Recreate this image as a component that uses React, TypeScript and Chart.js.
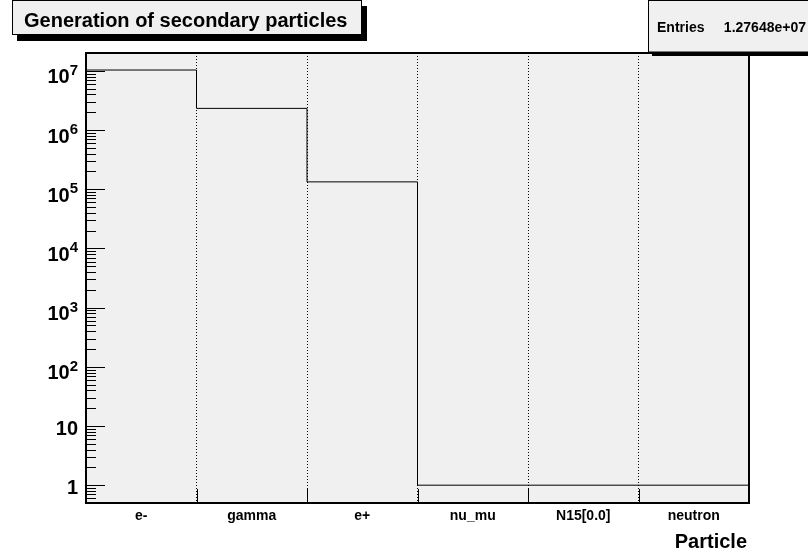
import React, { useEffect, useRef } from 'react';
import { Chart, registerables } from 'chart.js';

Chart.register(...registerables);

// Histogram contents: one bin per secondary particle species
const particles = ['e-', 'gamma', 'e+', 'nu_mu', 'N15[0.0]', 'neutron'];
const counts = [10311797, 2320000, 133000, 1, 1, 1];
const entriesLabel = 'Entries';
const entriesValue = '1.27648e+07';
const titleText = 'Generation of secondary particles';
const xAxisTitle = 'Particle';
// logarithmic y range and decade labels (10^k)
const yMin = 0.5;
const yMax = 2e7;
const decadeExponents = [0, 1, 2, 3, 4, 5, 6, 7];

const FONT = '"Liberation Sans", Arial, Helvetica, sans-serif';
const PAD_GRAY = '#f0f0f0';

const rootStylePlugin = {
  id: 'rootStyle',
  beforeDraw(chart: any) {
    const { ctx, chartArea: a } = chart;
    ctx.save();
    ctx.fillStyle = '#ffffff';
    ctx.fillRect(0, 0, chart.width, chart.height);
    ctx.fillStyle = PAD_GRAY;
    ctx.fillRect(a.left, a.top, a.right - a.left, a.bottom - a.top);
    ctx.restore();
  },
  afterDraw(chart: any) {
    const { ctx, chartArea: a, scales } = chart;
    const xs = scales.x;
    const ys = scales.y;
    ctx.save();

    // frame
    ctx.strokeStyle = '#000';
    ctx.lineWidth = 2;
    ctx.strokeRect(a.left, a.top, a.right - a.left, a.bottom - a.top);

    // inner tick marks on the log axis
    ctx.lineWidth = 1;
    ctx.beginPath();
    for (let k = -1; k <= 7; k++) {
      for (let m = 1; m <= 9; m++) {
        const v = m * Math.pow(10, k);
        if (v <= yMin * 1.0001 || v >= yMax * 0.9999) continue;
        const py = Math.round(ys.getPixelForValue(v)) + 0.5;
        const len = m === 1 ? 19 : 10;
        ctx.moveTo(a.left, py);
        ctx.lineTo(a.left + len, py);
      }
    }
    // tick marks at the bin edges
    for (let i = 1; i < particles.length; i++) {
      const px = Math.round(xs.getPixelForValue(i)) + 0.5;
      ctx.moveTo(px, a.bottom);
      ctx.lineTo(px, a.bottom - 14);
    }
    ctx.stroke();

    // y labels: 1, 10, 10^2 ... 10^7
    ctx.fillStyle = '#000';
    ctx.textAlign = 'right';
    ctx.textBaseline = 'alphabetic';
    const labelRight = a.left - 8;
    decadeExponents.forEach((k) => {
      const py = ys.getPixelForValue(Math.pow(10, k));
      if (k < 2) {
        ctx.font = `bold 20px ${FONT}`;
        ctx.fillText(k === 0 ? '1' : '10', labelRight, py + 9);
      } else {
        const exp = String(k);
        ctx.font = `bold 15px ${FONT}`;
        const ew = ctx.measureText(exp).width;
        ctx.fillText(exp, labelRight, py + 4);
        ctx.font = `bold 20px ${FONT}`;
        ctx.fillText('10', labelRight - ew, py + 12.5);
      }
    });

    // bin labels
    ctx.textAlign = 'center';
    ctx.font = `bold 14px ${FONT}`;
    particles.forEach((p, i) => {
      ctx.fillText(p, xs.getPixelForValue(i + 0.5), a.bottom + 17);
    });

    // axis title
    ctx.textAlign = 'right';
    ctx.font = `bold 20px ${FONT}`;
    ctx.fillText(xAxisTitle, a.right - 2, a.bottom + 45);

    // title box with shadow
    ctx.fillStyle = '#000';
    ctx.fillRect(17, 6, 350, 35);
    ctx.fillStyle = PAD_GRAY;
    ctx.fillRect(12, 1, 350, 34);
    ctx.strokeStyle = '#000';
    ctx.lineWidth = 1;
    ctx.strokeRect(12.5, 0.5, 349, 34);
    ctx.fillStyle = '#000';
    ctx.textAlign = 'left';
    ctx.font = `bold 20px ${FONT}`;
    ctx.fillText(titleText, 24, 27);

    // statistics box with shadow
    ctx.fillStyle = '#000';
    ctx.fillRect(652, 5, 170, 51);
    ctx.fillStyle = PAD_GRAY;
    ctx.fillRect(648, 0, 170, 52);
    ctx.strokeStyle = '#000';
    ctx.strokeRect(648.5, 0.5, 170, 51.5);
    ctx.fillStyle = '#000';
    ctx.font = `bold 14px ${FONT}`;
    ctx.textAlign = 'left';
    ctx.fillText(entriesLabel, 657, 32);
    ctx.textAlign = 'right';
    ctx.fillText(entriesValue, 806, 32);

    ctx.restore();
  },
};

export default function App() {
  const canvasRef = useRef<HTMLCanvasElement | null>(null);

  useEffect(() => {
    document.body.style.margin = '0';
    const canvas = canvasRef.current;
    if (!canvas) return;

    // bin edges 0..N with the last bin repeated so the step closes at the right edge
    const points = particles.map((_, i) => ({ x: i, y: counts[i] }));
    points.push({ x: particles.length, y: counts[counts.length - 1] });

    const chart = new Chart(canvas, {
      type: 'line',
      data: {
        datasets: [
          {
            data: points,
            borderColor: '#000',
            borderWidth: 1,
            pointRadius: 0,
            stepped: 'before',
            fill: false,
          },
        ],
      },
      options: {
        animation: false,
        responsive: false,
        events: [],
        layout: { padding: { left: 0, top: 53, right: 59, bottom: 0 } },
        plugins: {
          legend: { display: false },
          title: { display: false },
          tooltip: { enabled: false },
        },
        scales: {
          x: {
            type: 'linear',
            min: 0,
            max: particles.length,
            ticks: { display: false, stepSize: 1 },
            grid: { color: '#000', lineWidth: 1, drawTicks: false },
            border: { display: false, dash: [1, 2] },
            afterFit: (s: any) => {
              s.height = 56;
            },
          },
          y: {
            type: 'logarithmic',
            min: yMin,
            max: yMax,
            ticks: { display: false },
            grid: { display: false },
            border: { display: false },
            afterFit: (s: any) => {
              s.width = 86;
            },
          },
        },
      },
      plugins: [rootStylePlugin],
    });

    return () => chart.destroy();
  }, []);

  return (
    <div style={{ width: 808, height: 559 }}>
      <canvas ref={canvasRef} width={808} height={559} />
    </div>
  );
}
